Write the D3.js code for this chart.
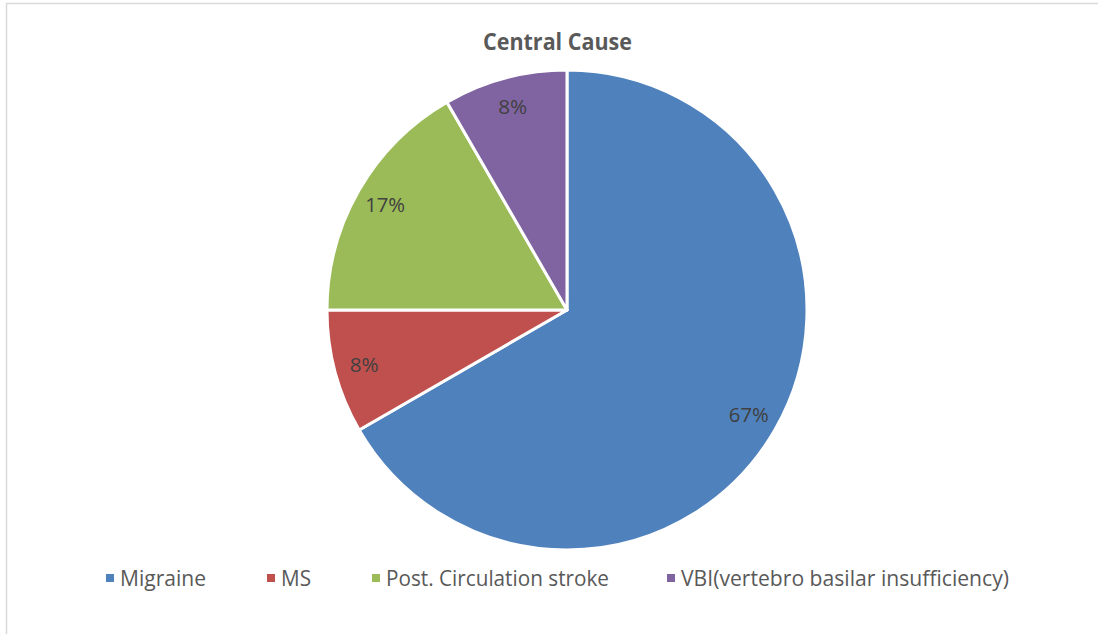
<!DOCTYPE html>
<html><head><meta charset="utf-8">
<script src="https://cdn.jsdelivr.net/npm/d3@7"></script>
<style>html,body{margin:0;padding:0;background:#fff;}svg{display:block;}</style>
</head><body>
<script>
const categories = ["Migraine", "MS", "Post. Circulation stroke", "VBI(vertebro basilar insufficiency)"];
const values = [8, 1, 2, 1];
const labels = ["67%", "8%", "17%", "8%"];
const colors = ["#4F81BD", "#C0504D", "#9BBB59", "#8064A2"];
const title = "Central Cause";

const W = 1098, H = 634;
const FONT = "'Open Sans', sans-serif";
const svg = d3.select("body").append("svg").attr("width", W).attr("height", H);
svg.append("rect").attr("x", 6.5).attr("y", 3.5).attr("width", W + 10).attr("height", H + 10)
  .attr("fill", "#fff").attr("stroke", "#d9d9d9").attr("stroke-width", 1.5);

svg.append("text").attr("x", 557.5).attr("y", 50).attr("text-anchor", "middle")
  .attr("font-family", FONT).attr("font-weight", "bold").attr("font-size", 23)
  .attr("fill", "#595959").attr("textLength", 149).attr("lengthAdjust", "spacingAndGlyphs").text(title);

const cx = 567, cy = 310, R = 240;
const pie = d3.pie().sort(null).value(d => d)(values);
const arc = d3.arc().innerRadius(0).outerRadius(R);
const labelArc = d3.arc().innerRadius(210).outerRadius(210);
const g = svg.append("g").attr("transform", `translate(${cx},${cy})`);
g.selectAll("path").data(pie).join("path").attr("d", arc)
  .attr("fill", (d, i) => colors[i]).attr("stroke", "#fff").attr("stroke-width", 3).attr("stroke-linejoin", "round");
g.selectAll("text").data(pie).join("text")
  .attr("transform", d => `translate(${labelArc.centroid(d)})`)
  .attr("text-anchor", "middle").attr("dy", "0.36em")
  .attr("font-family", FONT).attr("font-size", 20).attr("fill", "#404040")
  .attr("textLength", (d, i) => labels[i].length === 3 ? 40 : 29).attr("lengthAdjust", "spacingAndGlyphs")
  .text((d, i) => labels[i]);

const legX = [106, 267, 372, 667];
const legW = [86, 30, 223, 328];
const leg = svg.append("g");
categories.forEach((c, i) => {
  leg.append("rect").attr("x", legX[i]).attr("y", 574).attr("width", 8).attr("height", 8).attr("fill", colors[i]);
  leg.append("text").attr("x", legX[i] + 14).attr("y", 585.5)
    .attr("font-family", FONT).attr("font-size", 21).attr("fill", "#595959")
    .attr("textLength", legW[i]).attr("lengthAdjust", "spacingAndGlyphs").text(c);
});
</script>
</body></html>
